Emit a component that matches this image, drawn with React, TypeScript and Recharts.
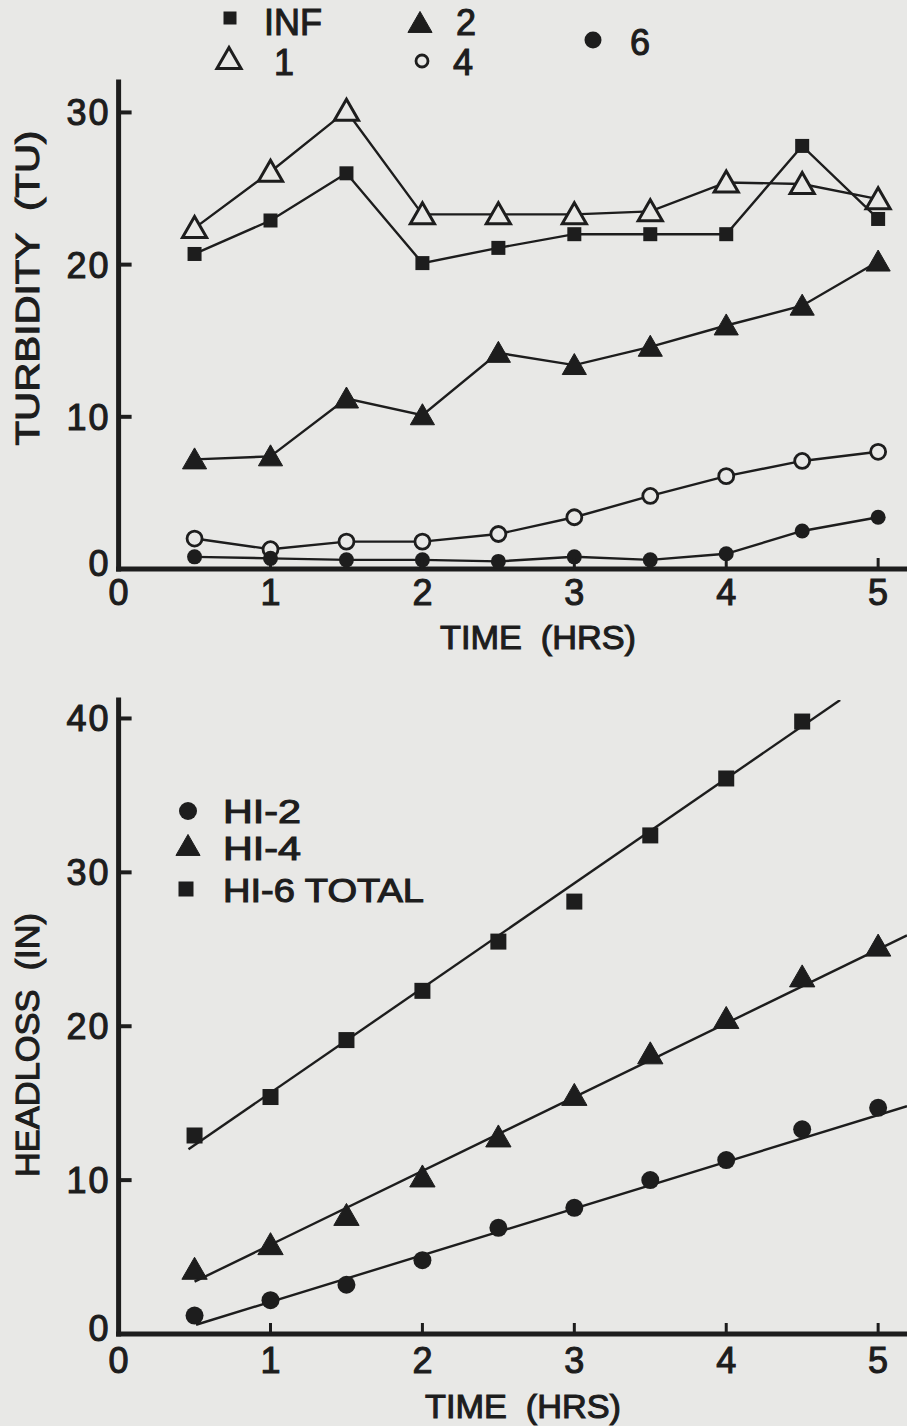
import React from 'react';
import { ComposedChart, Line, XAxis, YAxis, Legend } from 'recharts';

// ---------- data ----------
const times = [0.5, 1, 1.5, 2, 2.5, 3, 3.5, 4, 4.5, 5];
const turbINF = [20.7, 22.9, 26.0, 20.1, 21.1, 22.0, 22.0, 22.0, 27.8, 23.0];
const turb1 = [22.4, 26.1, 30.1, 23.3, 23.3, 23.3, 23.5, 25.4, 25.3, 24.3];
const turb2 = [7.2, 7.4, 11.2, 10.1, 14.2, 13.4, 14.6, 16.0, 17.3, 20.2];
const turb4 = [2.0, 1.3, 1.8, 1.8, 2.3, 3.4, 4.8, 6.1, 7.1, 7.7];
const turb6 = [0.8, 0.7, 0.6, 0.6, 0.5, 0.8, 0.6, 1.0, 2.5, 3.4];

const hi2 = [1.2, 2.2, 3.2, 4.8, 6.9, 8.2, 10.0, 11.3, 13.3, 14.7];
const hi4 = [4.2, 5.8, 7.7, 10.2, 12.8, 15.5, 18.2, 20.5, 23.2, 25.2];
const hi6Times = [0.5, 1, 1.5, 2, 2.5, 3, 3.5, 4, 4.5];
const hi6 = [12.9, 15.4, 19.1, 22.3, 25.5, 28.1, 32.4, 36.1, 39.8];

// fitted straight lines (end points)
const fit2T = [0.51, 5.19];
const fit2V = [0.6, 14.8];
const fit4T = [0.5, 5.19];
const fit4V = [3.4, 25.9];
const fit6T = [0.46, 4.75];
const fit6V = [12.0, 41.2];

const timeTicks = [0, 1, 2, 3, 4, 5];
const turbTicks = [0, 10, 20, 30];
const headTicks = [0, 10, 20, 30, 40];

const turbLegend = ['INF', '1', '2', '4', '6'];
const headLegend = ['HI-2', 'HI-4', 'HI-6 TOTAL'];
const turbTitleY = 'TURBIDITY  (TU)';
const headTitleY = 'HEADLOSS  (IN)';
const timeTitle = 'TIME  (HRS)';

// ---------- build tables ----------
const turbRows = times.map((t, i) => ({
  t,
  inf: turbINF[i],
  f1: turb1[i],
  f2: turb2[i],
  f4: turb4[i],
  f6: turb6[i],
}));
const pts = (ts: number[], vs: number[]) => ts.map((t, i) => ({ t, v: vs[i] }));
const hi2Rows = pts(times, hi2);
const hi4Rows = pts(times, hi4);
const hi6Rows = pts(hi6Times, hi6);
const fit2Rows = pts(fit2T, fit2V);
const fit4Rows = pts(fit4T, fit4V);
const fit6Rows = pts(fit6T, fit6V);

// ---------- style ----------
const INK = '#1d1d1d';
const PAPER = '#e8e8e6';
const FONT = '"Liberation Sans", Arial, Helvetica, sans-serif';
const txt = {
  fontFamily: FONT,
  fill: INK,
  stroke: INK,
  strokeWidth: 1.1,
} as const;

type Kind = 'sq' | 'triF' | 'triO' | 'cirF' | 'cirO';

function shape(kind: Kind, cx: number, cy: number, s: number, key?: string) {
  if (kind === 'sq') {
    return <rect key={key} x={cx - s / 2} y={cy - s / 2} width={s} height={s} fill={INK} />;
  }
  if (kind === 'triF' || kind === 'triO') {
    const w = s * 1.15;
    const h = s;
    const p = `${cx},${cy - h * 0.55} ${cx + w / 2},${cy + h * 0.45} ${cx - w / 2},${cy + h * 0.45}`;
    return kind === 'triF' ? (
      <polygon key={key} points={p} fill={INK} stroke={INK} strokeWidth={1} strokeLinejoin="miter" />
    ) : (
      <polygon key={key} points={p} fill={PAPER} stroke={INK} strokeWidth={3} strokeLinejoin="miter" />
    );
  }
  if (kind === 'cirF') return <circle key={key} cx={cx} cy={cy} r={s / 2} fill={INK} />;
  return <circle key={key} cx={cx} cy={cy} r={s / 2} fill={PAPER} stroke={INK} strokeWidth={2.8} />;
}

const dotOf = (kind: Kind, s: number) => (p: any) => {
  if (p.cx == null || p.cy == null) return <g key={`e-${p.index}`} />;
  return shape(kind, p.cx, p.cy, s, `${kind}-${p.index}-${p.dataKey}`);
};

const makeXTick = (dy: number) => (p: any) => {
  const { x, y, payload } = p;
  return (
    <g>
      {payload.value !== 0 && (
        <line x1={x} y1={y} x2={x} y2={y - 11} stroke={INK} strokeWidth={3} />
      )}
      <text x={x} y={y + dy} textAnchor="middle" fontSize={36} style={txt}>
        {payload.value}
      </text>
    </g>
  );
};

const YTick = (p: any) => {
  const { x, y, payload } = p;
  return (
    <g>
      {payload.value !== 0 && (
        <line x1={x} y1={y} x2={x + 13} y2={y} stroke={INK} strokeWidth={4} />
      )}
      <text
        x={x - 8}
        y={y + (payload.value === 0 ? 7 : 13)}
        textAnchor="end"
        fontSize={36}
        letterSpacing={2}
        style={txt}
      >
        {payload.value}
      </text>
    </g>
  );
};

const yTitle = (label: string, cy: number, len: number) => () => (
  <text
    x={27}
    y={cy}
    transform={`rotate(-90 27 ${cy})`}
    textAnchor="middle"
    dominantBaseline="central"
    fontSize={34}
    textLength={len}
    lengthAdjust="spacingAndGlyphs"
    style={{ ...txt, whiteSpace: 'pre' }}
  >
    {label}
  </text>
);

const xTitle = (cx: number, baseY: number) => () => (
  <text
    x={cx}
    y={baseY}
    textAnchor="middle"
    fontSize={34}
    textLength={196}
    lengthAdjust="spacingAndGlyphs"
    style={{ ...txt, whiteSpace: 'pre' }}
  >
    {timeTitle}
  </text>
);

const legendText = (label: string, x: number, y: number, size: number, len?: number) => (
  <text
    x={x}
    y={y}
    fontSize={size}
    style={{ ...txt, whiteSpace: 'pre' }}
    {...(len ? { textLength: len, lengthAdjust: 'spacingAndGlyphs' } : {})}
  >
    {label}
  </text>
);

const TurbLegend = () => (
  <svg width={907} height={90} style={{ display: 'block' }}>
    {shape('sq', 230, 18, 13)}
    {legendText(turbLegend[0], 264, 35, 36)}
    {shape('triO', 229, 59, 21)}
    {legendText(turbLegend[1], 274, 75, 36)}
    {shape('triF', 420, 23, 21)}
    {legendText(turbLegend[2], 456, 35, 36)}
    {shape('cirO', 422, 61, 12)}
    {legendText(turbLegend[3], 453, 75, 36)}
    {shape('cirF', 593, 40, 17)}
    {legendText(turbLegend[4], 630, 55, 36)}
  </svg>
);

// svg placed at chart y = 100 (page y = 780)
const HeadLegend = () => (
  <svg width={500} height={140} style={{ display: 'block' }}>
    {shape('cirF', 188, 31, 18)}
    {legendText(headLegend[0], 223, 43, 33, 78)}
    {shape('triF', 188, 66, 21)}
    {legendText(headLegend[1], 223, 80, 33, 78)}
    {shape('sq', 186, 109, 15)}
    {legendText(headLegend[2], 223, 122, 33, 201)}
  </svg>
);

const axisLineStyle = { stroke: INK, strokeWidth: 5, strokeLinecap: 'square' as const };

export default function App() {
  return (
    <div
      style={{
        position: 'absolute',
        left: 0,
        top: 0,
        width: 907,
        height: 1426,
        background: PAPER,
        overflow: 'hidden',
      }}
    >
      {/* ---------- Turbidity panel ---------- */}
      <div style={{ position: 'absolute', left: 0, top: 0 }}>
        <ComposedChart
          width={907}
          height={680}
          data={turbRows}
          margin={{ top: 82, right: 0, bottom: 110, left: 117.6 }}
        >
          <XAxis
            dataKey="t"
            type="number"
            domain={[0, 5.19]}
            allowDataOverflow
            ticks={timeTicks}
            interval={0}
            height={1}
            tickSize={0}
            tickMargin={0}
            tickLine={false}
            axisLine={axisLineStyle}
            tick={makeXTick(36)}
            label={xTitle(538, 649)}
          />
          <YAxis
            type="number"
            domain={[0, 32]}
            allowDataOverflow
            ticks={turbTicks}
            interval={0}
            width={1}
            tickSize={0}
            tickMargin={0}
            tickLine={false}
            axisLine={axisLineStyle}
            tick={YTick}
            label={yTitle(turbTitleY, 288, 315)}
          />
          <Legend
            layout="horizontal"
            verticalAlign="middle"
            align="center"
            wrapperStyle={{ position: 'absolute', left: 0, top: 0, width: 907, height: 90 }}
            content={TurbLegend}
          />
          <Line type="linear" dataKey="inf" stroke={INK} strokeWidth={2.4} dot={dotOf('sq', 14)} activeDot={false} isAnimationActive={false} />
          <Line type="linear" dataKey="f1" stroke={INK} strokeWidth={2.4} dot={dotOf('triO', 21)} activeDot={false} isAnimationActive={false} />
          <Line type="linear" dataKey="f2" stroke={INK} strokeWidth={2.4} dot={dotOf('triF', 21)} activeDot={false} isAnimationActive={false} />
          <Line type="linear" dataKey="f4" stroke={INK} strokeWidth={2.4} dot={dotOf('cirO', 15)} activeDot={false} isAnimationActive={false} />
          <Line type="linear" dataKey="f6" stroke={INK} strokeWidth={2.4} dot={dotOf('cirF', 15)} activeDot={false} isAnimationActive={false} />
        </ComposedChart>
      </div>

      {/* ---------- Headloss panel ---------- */}
      <div style={{ position: 'absolute', left: 0, top: 680 }}>
        <ComposedChart
          width={907}
          height={746}
          margin={{ top: 20, right: 0, bottom: 91, left: 117.6 }}
        >
          <XAxis
            dataKey="t"
            type="number"
            domain={[0, 5.19]}
            allowDataOverflow
            ticks={timeTicks}
            interval={0}
            height={1}
            tickSize={0}
            tickMargin={0}
            tickLine={false}
            axisLine={axisLineStyle}
            tick={makeXTick(39)}
            label={xTitle(523, 738)}
          />
          <YAxis
            type="number"
            domain={[0, 41.2]}
            allowDataOverflow
            ticks={headTicks}
            interval={0}
            width={1}
            tickSize={0}
            tickMargin={0}
            tickLine={false}
            axisLine={axisLineStyle}
            tick={YTick}
            label={yTitle(headTitleY, 365, 264)}
          />
          <Legend
            layout="horizontal"
            verticalAlign="middle"
            align="center"
            wrapperStyle={{ position: 'absolute', left: 0, top: 100, width: 500, height: 140 }}
            content={HeadLegend}
          />
          <Line data={fit6Rows} type="linear" dataKey="v" stroke={INK} strokeWidth={2.4} dot={false} activeDot={false} isAnimationActive={false} />
          <Line data={fit4Rows} type="linear" dataKey="v" stroke={INK} strokeWidth={2.4} dot={false} activeDot={false} isAnimationActive={false} />
          <Line data={fit2Rows} type="linear" dataKey="v" stroke={INK} strokeWidth={2.4} dot={false} activeDot={false} isAnimationActive={false} />
          <Line data={hi6Rows} type="linear" dataKey="v" stroke="none" dot={dotOf('sq', 16)} activeDot={false} isAnimationActive={false} />
          <Line data={hi4Rows} type="linear" dataKey="v" stroke="none" dot={dotOf('triF', 22)} activeDot={false} isAnimationActive={false} />
          <Line data={hi2Rows} type="linear" dataKey="v" stroke="none" dot={dotOf('cirF', 18)} activeDot={false} isAnimationActive={false} />
        </ComposedChart>
      </div>
    </div>
  );
}
